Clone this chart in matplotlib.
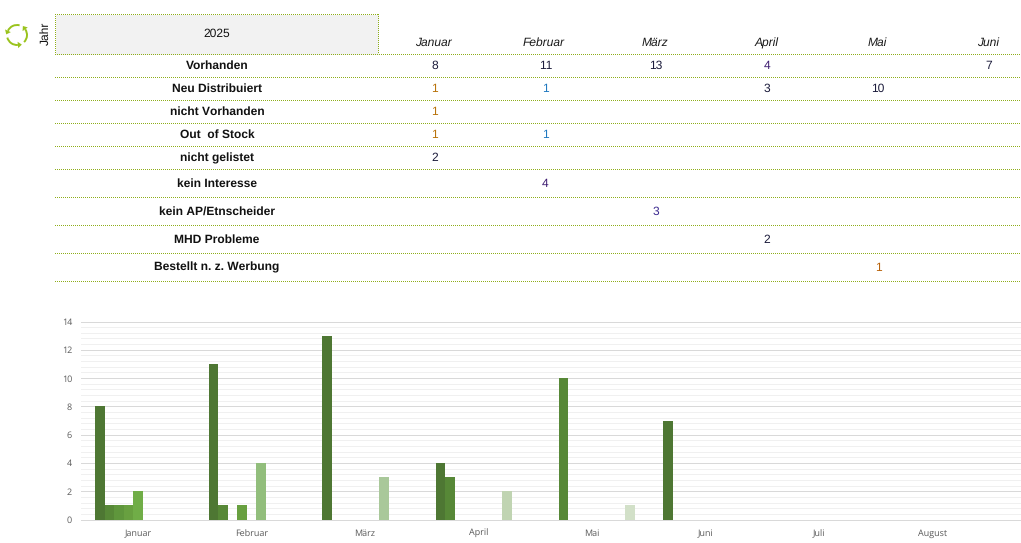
import matplotlib
matplotlib.use('Agg')
import matplotlib.pyplot as plt
import numpy as np
from matplotlib.patches import Arc, Polygon, Rectangle

plt.rcParams['font.family'] = ['Liberation Sans', 'DejaVu Sans']
plt.rcParams['text.hinting'] = 'no_hinting'
plt.rcParams['text.hinting_factor'] = 1

year = '2025'
months_table = ['Januar', 'Februar', 'März', 'April', 'Mai', 'Juni']
months_chart = ['Januar', 'Februar', 'März', 'April', 'Mai', 'Juni', 'Juli', 'August']
rows = ['Vorhanden', 'Neu Distribuiert', 'nicht Vorhanden', 'Out  of Stock', 'nicht gelistet',
        'kein Interesse', 'kein AP/Etnscheider', 'MHD Probleme', 'Bestellt n. z. Werbung']

vorhanden = [8, 11, 13, 4, None, 7]
neu_distribuiert = [1, 1, None, 3, 10, None]
nicht_vorhanden = [1, None, None, None, None, None]
out_of_stock = [1, 1, None, None, None, None]
nicht_gelistet = [2, None, None, None, None, None]
kein_interesse = [None, 4, None, None, None, None]
kein_ap = [None, None, 3, None, None, None]
mhd_probleme = [None, None, None, 2, None, None]
bestellt = [None, None, None, None, 1, None]
series = [vorhanden, neu_distribuiert, nicht_vorhanden, out_of_stock, nicht_gelistet,
          kein_interesse, kein_ap, mhd_probleme, bestellt]

bar_colors = ['#4e7733', '#578837', '#5f963c', '#68a040', '#70ad47',
              '#92be7c', '#a9c89a', '#c0d4b2', '#d2e0c8']

W, H = 1021, 543
fig = plt.figure(figsize=(W / 100, H / 100), dpi=100, facecolor='white')

# bar chart
left, right, top, bottom = 81, 1021, 321.5, 519.5
ax = fig.add_axes([left / W, 1 - bottom / H, (right - left) / W, (bottom - top) / H])
cat_w = 113.6
bar_w = 9.5 / cat_w
x = np.arange(len(months_chart))
for i, s in enumerate(series):
    vals = [0 if v is None else v for v in s] + [0] * (len(months_chart) - len(s))
    ax.bar(x + (i - 4) * bar_w, vals, width=bar_w, color=bar_colors[i], zorder=3, linewidth=0)

ax.set_xlim(-0.5, (right - left) / cat_w - 0.5)
ax.set_ylim(0, 14)
ax.set_yticks(np.arange(0, 15, 2))
ax.set_yticks(np.arange(0, 14.01, 0.4), minor=True)
ax.set_xticks(x)
ax.set_xticklabels(months_chart)
ax.grid(axis='y', which='major', color='#d9d9d9', lw=0.72, zorder=1)
ax.grid(axis='y', which='minor', color='#f0f0f0', lw=0.72, zorder=0)
ax.tick_params(which='both', length=0)
ax.tick_params(axis='x', labelsize=6.8, labelcolor='#595959', pad=7.2)
ax.tick_params(axis='y', labelsize=6.8, labelcolor='#595959', pad=6.5)
for lab in ax.get_xticklabels() + ax.get_yticklabels():
    lab.set_family(['Open Sans', 'DejaVu Sans'])
for name in ['top', 'left', 'right']:
    ax.spines[name].set_visible(False)
ax.spines['bottom'].set_color('#d9d9d9')
ax.spines['bottom'].set_linewidth(0.72)

# table on top, in pixel coordinates
ov = fig.add_axes([0, 0, 1, 1], facecolor='none')
ov.set_xlim(0, W)
ov.set_ylim(H, 0)
ov.axis('off')

dot = '#8fae1b'
dots = (0, (1, 1))
line_ys = [54.5, 77.5, 100.5, 123.5, 146.5, 169.5, 197.5, 225.5, 253.5, 281.5]
text_ys = [66, 89, 112, 135, 158, 183.5, 211.5, 239.5, 267.5]
col_xs = [434.5, 545.5, 656, 767, 878, 989]
head_xs = [433, 544, 655, 767, 877, 988]
cell_colors = {(1, 0): '#b8720a', (2, 0): '#b8720a', (3, 0): '#b8720a', (1, 1): '#1f78c0', (3, 1): '#1f78c0',
               (6, 2): '#3c2a90', (0, 3): '#3c1a70', (5, 1): '#3c1a70', (8, 4): '#b8620a'}

ov.add_patch(Rectangle((55.5, 14.5), 323, 40, fc='#f2f2f2', ec='none'))
# snap off so the 1px dots stay on the pixel grid
for xs, ys in [([55, 379], [14.5, 14.5]), ([55.5, 55.5], [14, 54]), ([378.5, 378.5], [14, 54])]:
    ov.plot(xs, ys, color=dot, lw=0.72, ls=dots, snap=False)
for y in line_ys:
    ov.plot([55, W], [y, y], color=dot, lw=0.72, ls=dots, snap=False)

ov.text(217, 34, year, ha='center', va='center', fontsize=8.8, color='#111111')
ov.text(46, 33, 'Jahr', ha='center', va='center', rotation=90, fontsize=8.6, color='#111111')
for hx, m in zip(head_xs, months_table):
    ov.text(hx, 43, m, ha='center', va='center', style='italic', fontsize=8.6, color='#1a1a1a')
for r, (name, s) in enumerate(zip(rows, series)):
    ov.text(217, text_ys[r], name, ha='center', va='center', weight='bold', fontsize=8.5, color='#111111')
    for c, v in enumerate(s):
        if v is not None:
            ov.text(col_xs[c], text_ys[r], str(v), ha='center', va='center', fontsize=8.8,
                    color=cell_colors.get((r, c), '#1a1a3a'))

# refresh icon
icon = '#9ac31c'
cx, cy, rad = 17, 35, 10
for start in [205, 325, 85]:
    ov.add_patch(Arc((cx, cy), 2 * rad, 2 * rad, theta1=start, theta2=start + 80, color=icon, lw=1.4))
    a = np.radians(start)
    px, py = cx + rad * np.cos(a), cy + rad * np.sin(a)
    tx, ty = np.sin(a), -np.cos(a)
    nx, ny = np.cos(a), np.sin(a)
    ov.add_patch(Polygon([[px + nx * 3.2, py + ny * 3.2], [px - nx * 3.2, py - ny * 3.2], [px + tx * 4, py + ty * 4]],
                         closed=True, fc=icon, ec='none'))

fig.savefig('out.png', dpi=100)
